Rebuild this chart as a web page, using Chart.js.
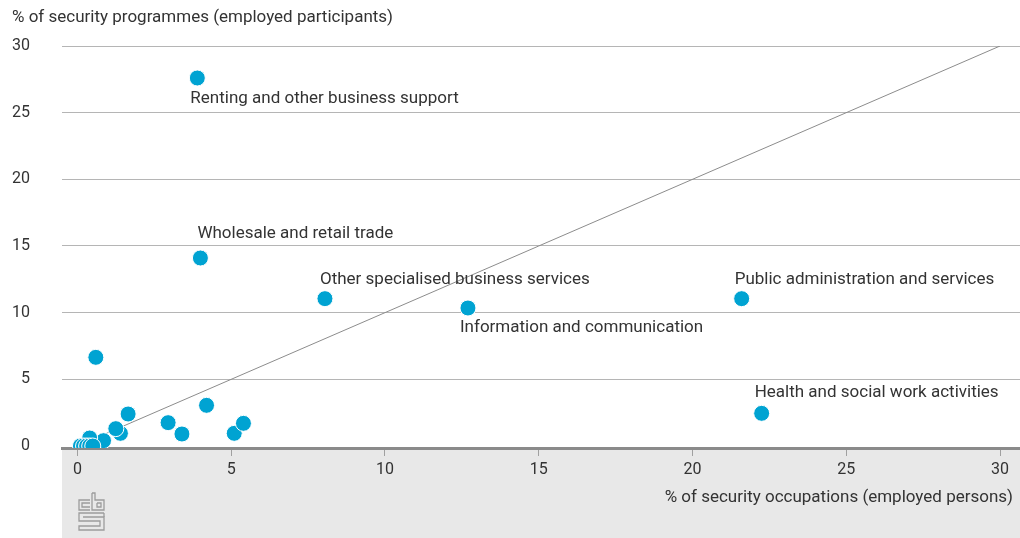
<!DOCTYPE html>
<html>
<head>
<meta charset="utf-8">
<script src="https://cdn.jsdelivr.net/npm/chart.js@4/dist/chart.umd.min.js"></script>
<style>
  html, body { margin: 0; padding: 0; background: #fff; }
  #wrap { width: 1020px; height: 538px; }
</style>
</head>
<body>
<div id="wrap"><canvas id="chart" width="1020" height="538"></canvas></div>
<script>
// sector points: x = % of security occupations, y = % of security programmes
const sectorNames = [
  'Renting and other business support',
  'Wholesale and retail trade',
  'Other specialised business services',
  'Information and communication',
  'Public administration and services',
  'Health and social work activities',
  '', '', '', '', '', '', '', '', '', '', '', '', '', '', '', ''
];
const occupationShare = [3.9, 4.0, 8.05, 12.7, 21.6, 22.25, 0.6, 1.65, 4.2, 2.95, 3.4, 5.1, 5.4, 1.4, 1.25, 0.85, 0.4, 0.1, 0.2, 0.3, 0.4, 0.5];
const programmeShare = [27.6, 14.1, 11.05, 10.35, 11.05, 2.45, 6.65, 2.4, 3.05, 1.75, 0.9, 0.95, 1.7, 0.95, 1.3, 0.4, 0.6, 0, 0, 0, 0, 0];
const diagonal = [0, 30];
const xTicks = [0, 5, 10, 15, 20, 25, 30];
const yTicks = [0, 5, 10, 15, 20, 25, 30];
const xTitle = '% of security occupations (employed persons)';
const yTitle = '% of security programmes (employed participants)';

const FONT = 'Roboto';
const TEXT = '#333333';

// where each label sits relative to its point
const labelOffsets = {
  'Renting and other business support': [-7, 21],
  'Wholesale and retail trade': [-3, -24],
  'Other specialised business services': [-5, -19],
  'Information and communication': [-8, 20],
  'Public administration and services': [-7, -19],
  'Health and social work activities': [-7, -21]
};

const points = occupationShare.map((x, i) => ({ x, y: programmeShare[i] }));

const decor = {
  id: 'decor',
  beforeDraw(chart) {
    const { ctx, chartArea } = chart;
    ctx.save();
    ctx.fillStyle = '#e8e8e8';
    ctx.fillRect(chartArea.left, chartArea.bottom, chart.width - chartArea.left, chart.height - chartArea.bottom);
    ctx.restore();
  },
  afterDatasetsDraw(chart) {
    const { ctx } = chart;
    const meta = chart.getDatasetMeta(1);
    ctx.save();
    ctx.font = '17px ' + FONT;
    ctx.fillStyle = TEXT;
    ctx.textAlign = 'left';
    ctx.textBaseline = 'middle';
    sectorNames.forEach((name, i) => {
      if (!name) return;
      const el = meta.data[i];
      const off = labelOffsets[name] || [0, -20];
      ctx.fillText(name, el.x + off[0], el.y + off[1]);
    });
    ctx.restore();
  },
  afterDraw(chart) {
    const { ctx, chartArea } = chart;
    ctx.save();
    ctx.font = '17px ' + FONT;
    ctx.fillStyle = TEXT;
    ctx.textBaseline = 'middle';
    ctx.textAlign = 'left';
    ctx.fillText(yTitle, 12, 18);
    ctx.textAlign = 'right';
    ctx.fillText(xTitle, chart.width - 7, chartArea.bottom + 50);

    // cbs logo
    const ox = chartArea.left + 17, oy = chartArea.bottom + 45;
    const paths = [
      [[11, 7], [0, 7], [0, 17], [11, 17]],
      [[11, 10], [3, 10], [3, 14], [11, 14]],
      [[13, 0], [13, 17], [25, 17], [25, 7], [16, 7], [16, 0], [13, 0]],
      [[18, 10], [22, 10], [22, 14], [18, 14], [18, 10]],
      [[25, 20], [0, 20], [0, 28], [21, 28], [21, 33], [0, 33], [0, 37], [25, 37], [25, 24], [4, 24], [4, 24]],
      [[25, 20], [25, 24]]
    ];
    ctx.strokeStyle = '#9c9c9c';
    ctx.lineWidth = 1.3;
    paths.forEach(p => {
      ctx.beginPath();
      p.forEach(([px, py], j) => j ? ctx.lineTo(ox + px, oy + py) : ctx.moveTo(ox + px, oy + py));
      ctx.stroke();
    });
    ctx.restore();
  }
};

new Chart(document.getElementById('chart'), {
  type: 'scatter',
  data: {
    datasets: [
      {
        data: diagonal.map(v => ({ x: v, y: v })),
        showLine: true,
        borderColor: '#8c8c8c',
        borderWidth: 1,
        pointRadius: 0,
        order: 2
      },
      {
        data: points,
        backgroundColor: '#00a3d2',
        borderColor: '#ffffff',
        borderWidth: 1,
        pointRadius: 8,
        order: 1
      }
    ]
  },
  options: {
    responsive: false,
    animation: false,
    devicePixelRatio: 1,
    layout: { autoPadding: false, padding: { top: 46, left: 0, right: 0, bottom: 0 } },
    plugins: {
      legend: { display: false },
      tooltip: { enabled: false },
      title: { display: false }
    },
    scales: {
      x: {
        type: 'linear',
        min: -0.5,
        max: 30.65,
        afterBuildTicks: s => { s.ticks = xTicks.map(v => ({ value: v })); },
        afterFit: s => { s.height = 90; s.paddingLeft = 0; s.paddingRight = 0; },
        border: { display: true, color: '#8a8a8a', width: 3 },
        grid: { drawOnChartArea: false, drawTicks: true, tickLength: 8, color: '#a0a0a0', lineWidth: 1 },
        ticks: { font: { family: FONT, size: 16 }, color: TEXT, padding: 4, maxRotation: 0 }
      },
      y: {
        type: 'linear',
        min: -0.15,
        max: 30,
        afterBuildTicks: s => { s.ticks = yTicks.map(v => ({ value: v })); },
        afterFit: s => { s.width = 62; },
        border: { display: false },
        grid: {
          drawTicks: false,
          lineWidth: 1,
          color: c => (c.tick && c.tick.value === 0) ? 'rgba(0,0,0,0)' : '#b5b5b5'
        },
        ticks: { font: { family: FONT, size: 16 }, color: TEXT, padding: 32 }
      }
    }
  },
  plugins: [decor]
});
</script>
</body>
</html>
